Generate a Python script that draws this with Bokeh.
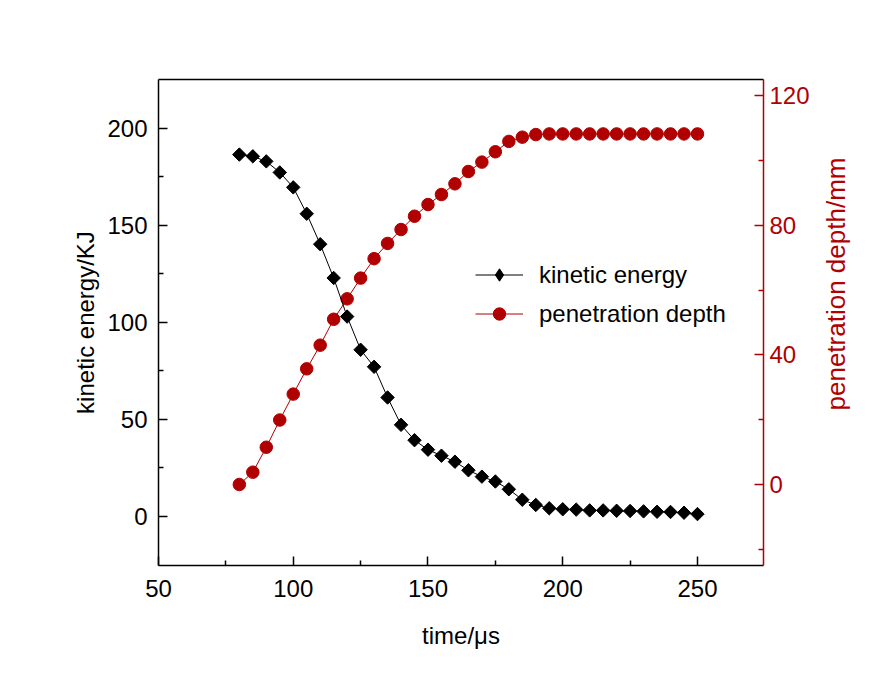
from bokeh.plotting import figure
from bokeh.models import Range1d, LinearAxis, FixedTicker, Legend, LegendItem, Div
from bokeh.layouts import row
from bokeh.embed import file_html
from bokeh.resources import INLINE
import math

# time (us)
time_us = [80, 85, 90, 95, 100, 105, 110, 115, 120, 125, 130, 135, 140, 145, 150, 155,
           160, 165, 170, 175, 180, 185, 190, 195, 200, 205, 210, 215, 220, 225, 230,
           235, 240, 245, 250]
# kinetic energy (KJ)
kinetic_energy = [186.3, 185.4, 182.8, 177.1, 169.4, 155.8, 140.1, 122.7, 102.8, 85.7,
                  76.9, 61.1, 47.0, 39.1, 34.2, 31.1, 28.0, 23.6, 20.3, 17.8, 13.8, 8.4,
                  5.7, 4.0, 3.5, 3.3, 2.9, 2.9, 2.7, 2.6, 2.4, 2.2, 2.1, 1.7, 1.0]
# penetration depth (mm)
penetration_depth = [0.0, 3.8, 11.5, 19.9, 27.9, 35.7, 43.0, 51.0, 57.3, 63.7, 69.7,
                     74.4, 78.7, 82.8, 86.4, 89.5, 92.8, 96.6, 99.5, 102.7, 105.9, 107.2,
                     108.0, 108.2, 108.2, 108.2, 108.2, 108.2, 108.2, 108.2, 108.2, 108.2,
                     108.2, 108.2, 108.2]

x_ticks = [50, 100, 150, 200, 250]
x_minor = [75, 125, 175, 225]
ke_ticks = [0, 50, 100, 150, 200]
ke_minor = [25, 75, 125, 175]
pd_ticks = [0, 40, 80, 120]
pd_minor = [-20, 20, 60, 100]

RED = "#b00000"
FONT = "Liberation Sans"

p = figure(width=813, height=669, output_backend="svg", toolbar_location=None,
           x_range=Range1d(50, 274.5), y_range=Range1d(-25.5, 225),
           min_border_left=158, min_border_right=50, min_border_top=79,
           min_border_bottom=104)
p.extra_y_ranges = {"depth": Range1d(-25, 125)}
p.outline_line_color = None
p.xgrid.visible = False
p.ygrid.visible = False


def style_axis(ax, color, standoff):
    ax.axis_line_color = color
    ax.axis_line_width = 1.5
    ax.major_tick_line_color = color
    ax.minor_tick_line_color = color
    ax.major_tick_line_width = 1.5
    ax.minor_tick_line_width = 1.5
    ax.major_tick_in = 9
    ax.major_tick_out = 0
    ax.minor_tick_in = 5
    ax.minor_tick_out = 0
    ax.major_label_text_font = FONT
    ax.major_label_text_font_size = "24px"
    ax.major_label_text_color = color
    ax.major_label_standoff = standoff
    ax.axis_label_text_font = FONT
    ax.axis_label_text_font_size = "24px"
    ax.axis_label_text_font_style = "normal"
    ax.axis_label_text_color = color


xax = p.xaxis[0]
xax.ticker = FixedTicker(ticks=x_ticks, minor_ticks=x_minor)
style_axis(xax, "black", 14)
xax.axis_label = "time/μs"
xax.axis_label_standoff = 22

yax = p.yaxis[0]
yax.ticker = FixedTicker(ticks=ke_ticks, minor_ticks=ke_minor)
style_axis(yax, "black", 11)
yax.axis_label = "kinetic energy/KJ"
yax.axis_label_standoff = 5

rax = LinearAxis(y_range_name="depth", ticker=FixedTicker(ticks=pd_ticks, minor_ticks=pd_minor))
style_axis(rax, RED, 6)
p.add_layout(rax, "right")

tax = LinearAxis(ticker=FixedTicker(ticks=[]))
tax.axis_line_width = 1.5
tax.major_label_text_font_size = "0px"
tax.major_tick_in = 0
tax.major_tick_out = 0
tax.minor_tick_in = 0
tax.minor_tick_out = 0
p.add_layout(tax, "above")

# penetration depth (drawn first)
l2 = p.line(time_us, penetration_depth, y_range_name="depth", line_color=RED, line_width=1)
s2 = p.scatter(time_us, penetration_depth, y_range_name="depth", marker="circle",
               size=12.5, fill_color=RED, line_color=RED)

# kinetic energy
l1 = p.line(time_us, kinetic_energy, line_color="black", line_width=1)
s1 = p.scatter(time_us, kinetic_energy, marker="square", angle=math.pi / 4,
               size=9.5, fill_color="black", line_color="black")
# small diamonds hidden under the squares, used for the legend symbol
d1 = p.scatter(time_us, kinetic_energy, marker="diamond", size=7,
               fill_color="black", line_color="black")

legend = Legend(items=[LegendItem(label="kinetic energy", renderers=[l1, d1]),
                       LegendItem(label="penetration depth", renderers=[l2, s2])],
                location=(317, 236))
legend.border_line_color = None
legend.background_fill_alpha = 0
legend.padding = 0
legend.margin = 0
legend.spacing = 8
legend.glyph_width = 48
legend.glyph_height = 31
legend.label_standoff = 16
legend.label_text_font = FONT
legend.label_text_font_size = "24px"
legend.label_text_color = "black"
p.add_layout(legend)

# right axis title, read bottom to top and sitting a bit above the middle
right_title = Div(
    text='<div style="position:absolute; left:24px; top:284px; '
         'transform:translate(-50%,-50%) rotate(-90deg); white-space:nowrap; '
         'font-family:\'Liberation Sans\'; font-size:26px; color:' + RED + ';">'
         'penetration depth/mm</div>',
    width=64, height=669, margin=0)

layout = row(p, right_title)

open("out.html", "w").write(file_html(layout, INLINE))
